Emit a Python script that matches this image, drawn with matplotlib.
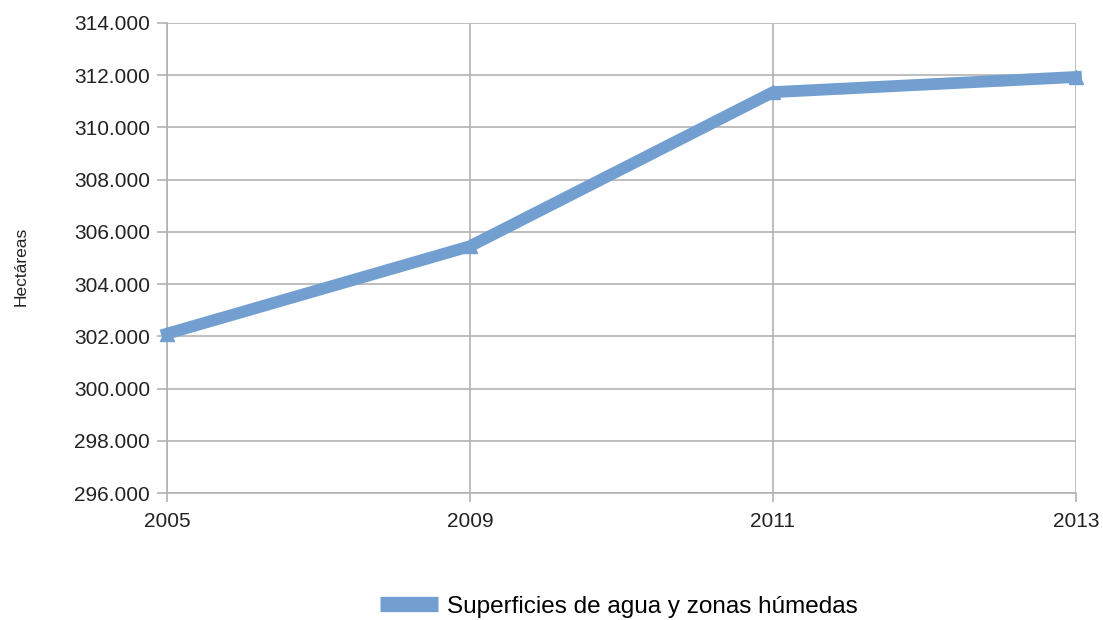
import matplotlib
matplotlib.use("Agg")
import matplotlib.pyplot as plt
from matplotlib.ticker import FuncFormatter

years = ["2005", "2009", "2011", "2013"]
hectareas = [302100, 305450, 311350, 311930]
series_name = "Superficies de agua y zonas húmedas"
y_label = "Hectáreas"

plt.rcParams['font.family'] = ['Liberation Sans', 'DejaVu Sans']
color = '#729fcf'

fig = plt.figure(figsize=(11.03, 6.2), dpi=100)
ax = fig.add_axes([0.1514, 0.2048, 0.9755 - 0.1514, 0.963 - 0.2048])

x = list(range(len(years)))
ax.plot(x, hectareas, color=color, linewidth=8.5, marker='^', markersize=10,
        solid_joinstyle='miter', label=series_name, clip_on=False, zorder=3)

ax.set_xlim(0, len(years) - 1)
ax.set_ylim(296000, 314000)
ax.set_yticks(range(296000, 314001, 2000))
ax.yaxis.set_major_formatter(FuncFormatter(lambda v, p: f"{int(v):,}".replace(",", ".")))
ax.set_xticks(x)
ax.set_xticklabels(years)

ax.grid(axis='both', color='#b3b3b3', linewidth=1.2)
ax.set_axisbelow(True)
for s in ['top', 'right']:
    ax.spines[s].set_visible(False)
for s in ['left', 'bottom']:
    ax.spines[s].set_color('#b3b3b3')
    ax.spines[s].set_linewidth(1.2)
ax.tick_params(axis='both', colors='#b3b3b3', labelcolor='#222222', labelsize=15,
               width=1.2)
ax.tick_params(axis='y', length=7.2, pad=5.0)
ax.tick_params(axis='x', length=6.5, pad=7.5)

fig.text(0.019, 0.571, y_label, rotation=90, va='center', ha='center',
         fontsize=12.5, color='#222222')

leg = fig.legend(loc='center', bbox_to_anchor=(0.561, 0.021), frameon=False,
                 fontsize=17.5, handlelength=2.4, handletextpad=0.35, markerscale=0)
for h in leg.legend_handles:
    h.set_linewidth(11)
    h.set_solid_capstyle('butt')
fig.savefig("out.png", dpi=100)
